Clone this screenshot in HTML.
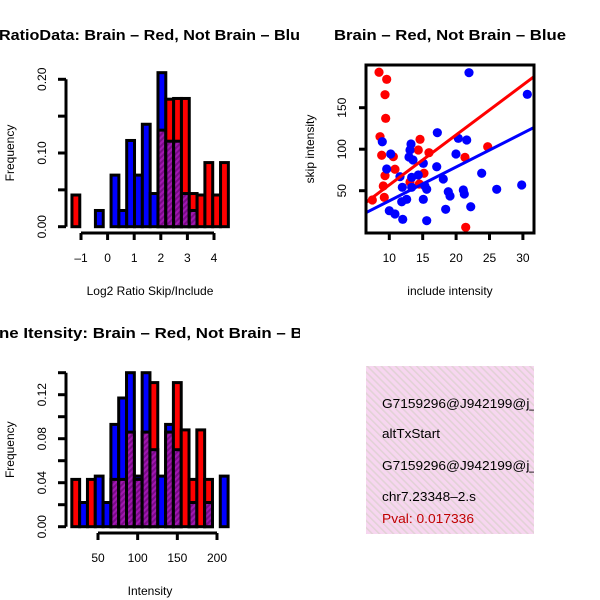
<!DOCTYPE html>
<html><head><meta charset="utf-8"><style>
html,body{margin:0;padding:0;background:#fff;}
svg{display:block;font-family:"Liberation Sans",Arial,sans-serif;}
</style></head><body>
<svg id="c" width="600" height="600" viewBox="0 0 600 600" xmlns="http://www.w3.org/2000/svg">
<defs>
<pattern id="purp" patternUnits="userSpaceOnUse" width="4" height="4" patternTransform="rotate(45)">
<rect width="4" height="4" fill="#a018b0"/><rect width="2" height="4" fill="#7a0a88"/></pattern>
<pattern id="pink" patternUnits="userSpaceOnUse" width="5" height="5" patternTransform="rotate(-45)">
<rect width="5" height="5" fill="#f7d6f0"/><rect width="1.6" height="5" fill="#e2d2d6"/></pattern>
<clipPath id="clipL"><rect x="0" y="0" width="300" height="600"/></clipPath>
<clipPath id="clipBox"><rect x="366" y="366" width="168" height="168"/></clipPath>
<clipPath id="clipSc"><rect x="366" y="65" width="168" height="168"/></clipPath>
</defs>
<g id="p1"></g>
<g id="p2"></g>
<g id="p3"></g>
<g id="p4">
<rect x="366" y="366" width="168" height="168" fill="url(#pink)"/>
<g clip-path="url(#clipBox)" font-size="13">
<text x="382" y="408" textLength="155" lengthAdjust="spacingAndGlyphs">G7159296@J942199@j_</text>
<text x="382" y="438" textLength="58" lengthAdjust="spacingAndGlyphs">altTxStart</text>
<text x="382" y="470" textLength="155" lengthAdjust="spacingAndGlyphs">G7159296@J942199@j_</text>
<text x="382" y="501" textLength="94" lengthAdjust="spacingAndGlyphs">chr7.23348–2.s</text>
<text x="382" y="523" textLength="92" lengthAdjust="spacingAndGlyphs" fill="#c00000">Pval: 0.017336</text>
</g></g>
</svg>
<script>
// ---- Ratio histogram data ----
const ratioBreakStart = -1.34;
const ratioBinWidth = 0.294;
const ratioRed  = [0.043,0,0,0,0,0,0,0,0,0,0,0.131,0.173,0.174,0.174,0.045,0.043,0.087,0.043,0.087];
const ratioBlue = [0,0,0,0.022,0,0.070,0.022,0.117,0.070,0.139,0.045,0.209,0.116,0.116,0.045,0.022,0,0,0,0];
const ratioXTicks = [-1,0,1,2,3,4];
const ratioYTicks = [0,0.05,0.10,0.15,0.20];
const ratioYLabels = ["0.00","","0.10","","0.20"];
// ---- Intensity histogram data ----
const intBreakStart = 17;
const intBinWidth = 9.85;
const intRed  = [0.043,0,0.043,0,0,0.043,0.043,0.086,0.043,0.086,0.131,0,0.086,0.131,0.088,0.043,0.088,0.043,0,0];
const intBlue = [0,0.022,0,0.046,0.022,0.093,0.117,0.140,0.046,0.140,0.070,0.046,0.093,0.070,0,0.022,0,0.022,0,0.046];
const intXTicks = [50,100,150,200];
const intYTicks = [0,0.02,0.04,0.06,0.08,0.10,0.12,0.14];
const intYLabels = ["0.00","","0.04","","0.08","","0.12",""];
// ---- Scatter data ----
const redX = [8.46,9.61,9.36,9.46,8.61,8.86,10.60,14.60,14.34,15.94,9.36,10.85,9.10,9.25,7.46,15.19,14.49,13.1,21.33,24.73,21.44];
const redY = [192.7,184.2,165.7,137.2,115.1,92.7,91.0,111.9,99.0,95.8,68.1,75.8,55.7,42.0,38.8,71.0,58.1,60.5,90.2,103.0,5.9];
const blueX = [21.93,30.66,17.19,8.95,13.25,13.10,12.95,13.55,20.33,21.59,10.21,19.98,15.09,9.61,17.10,23.83,18.08,14.34,13.35,11.95,13.35,15.34,15.60,18.83,19.09,21.08,21.23,26.08,29.82,10.00,10.85,12.01,12.60,11.86,15.09,18.44,22.19,15.60,11.6];
const blueY = [192.2,166.1,119.9,109.0,106.3,99.0,90.6,87.0,113.1,111.1,94.2,94.2,83.0,76.1,78.9,71.0,64.1,68.9,66.1,54.1,54.1,55.7,51.7,48.8,43.6,50.8,46.0,51.7,56.9,25.9,21.9,15.5,39.6,36.7,39.6,27.6,30.7,13.9,66.9];
const fitIntercept = [-3.2,-3.0];  // red, blue
const fitSlope = [6.02,4.08];
const scXTicks = [10,15,20,25,30];
const scYTicks = [50,100,150];

const NS="http://www.w3.org/2000/svg";
function mk(parent,tag,attrs,text){const e=document.createElementNS(NS,tag);for(const k in attrs)e.setAttribute(k,attrs[k]);if(text!==undefined)e.textContent=text;parent.appendChild(e);return e;}

function drawHist(g,xs,ys,start,w,red,blue,xTicks,yTicks,yLabels,axY,title,titleLen,xlab,titleBase){
  const tg=mk(g,'g',{'clip-path':'url(#clipL)'});
  const t=mk(tg,'text',{x:-1,y:titleBase,'font-size':15,'font-weight':'bold',textLength:titleLen,lengthAdjust:'spacingAndGlyphs'},title);
  
  
  for(let i=0;i<red.length;i++){
    const r=red[i],b=blue[i],x0=xs(start+i*w),x1=xs(start+(i+1)*w);
    const mx=Math.max(r,b),mn=Math.min(r,b);
    if(mx>0){
      const rc=mk(g,'rect',{x:x0,y:ys(mx),width:x1-x0,height:ys(0)-ys(mx),fill:r>b?'#ff0000':'#0000ff',stroke:'#000','stroke-width':3});
      
      
    }
    if(mn>0){
      const pc=mk(g,'rect',{x:x0,y:ys(mn),width:x1-x0,height:ys(0)-ys(mn),fill:'url(#purp)',stroke:'#000','stroke-width':3});
      
      
    }
  }
  const ya=mk(g,'line',{x1:66,x2:66,y1:ys(yTicks[0]),y2:ys(yTicks[yTicks.length-1]),stroke:'#000','stroke-width':3});
  
  
  yTicks.forEach((v,i)=>{
    mk(g,'line',{x1:58,x2:66,y1:ys(v),y2:ys(v),stroke:'#000','stroke-width':3});
    if(yLabels[i]){
      const l=mk(g,'text',{x:0,y:0,'font-size':12,'text-anchor':'middle',transform:`translate(46,${ys(v)}) rotate(-90)`},yLabels[i]);
      
      
    }
  });
  const yt=mk(g,'text',{x:0,y:0,'font-size':12,'text-anchor':'middle',transform:`translate(14,${(ys(yTicks[0])+ys(yTicks[yTicks.length-1]))/2}) rotate(-90)`},'Frequency');
  
  
  const xa=mk(g,'line',{x1:xs(xTicks[0]),x2:xs(xTicks[xTicks.length-1]),y1:axY,y2:axY,stroke:'#000','stroke-width':3});
  
  
  xTicks.forEach(v=>{
    mk(g,'line',{x1:xs(v),x2:xs(v),y1:axY,y2:axY+7,stroke:'#000','stroke-width':3});
    const l=mk(g,'text',{x:xs(v),y:axY+29,'font-size':12,'text-anchor':'middle'},v<0?'–'+(-v):String(v));
    
    
  });
  const xt=mk(g,'text',{x:150,y:axY+62,'font-size':12,'text-anchor':'middle'},xlab);
  
  
}

drawHist(document.getElementById('p1'),v=>81+(v+1)*26.6,v=>226.7-v*737,ratioBreakStart,ratioBinWidth,ratioRed,ratioBlue,ratioXTicks,ratioYTicks,ratioYLabels,233,'RatioData: Brain – Red, Not Brain – Blue',310,'Log2 Ratio Skip/Include',40);
drawHist(document.getElementById('p3'),v=>98+(v-50)*0.7933,v=>526.7-v*1100,intBreakStart,intBinWidth,intRed,intBlue,intXTicks,intYTicks,intYLabels,533,'ne Itensity: Brain – Red, Not Brain – Blue',328,'Intensity',338);

(function(){
  const g=document.getElementById('p2');
  const xs=v=>389.3+(v-10)*6.68, ys=v=>190.7-(v-50)*0.83;
  const t=mk(g,'text',{x:334,y:40,'font-size':15,'font-weight':'bold',textLength:232,lengthAdjust:'spacingAndGlyphs'},'Brain – Red, Not Brain – Blue');
  
  
  const pg=mk(g,'g',{'clip-path':'url(#clipSc)'});
  redX.forEach((x,i)=>{const c=mk(pg,'circle',{cx:xs(x),cy:ys(redY[i]),r:4.6,fill:'#ff0000'});
    
    });
  blueX.forEach((x,i)=>{const c=mk(pg,'circle',{cx:xs(x),cy:ys(blueY[i]),r:4.6,fill:'#0000ff'});
    
    });
  const cols=['#ff0000','#0000ff'];
  [0,1].forEach(k=>{const xa=6.5,xb=31.7;
    const l=mk(pg,'line',{x1:xs(xa),y1:ys(fitIntercept[k]+fitSlope[k]*xa),x2:xs(xb),y2:ys(fitIntercept[k]+fitSlope[k]*xb),stroke:cols[k],'stroke-width':3});
    
    });
  const b=mk(g,'rect',{x:366,y:65,width:168,height:168,fill:'none',stroke:'#000','stroke-width':3});
  
  
  scXTicks.forEach(v=>{mk(g,'line',{x1:xs(v),x2:xs(v),y1:233,y2:240,stroke:'#000','stroke-width':3});
    const l=mk(g,'text',{x:xs(v),y:262,'font-size':12,'text-anchor':'middle'},String(v));
    
    });
  scYTicks.forEach(v=>{mk(g,'line',{x1:359,x2:366,y1:ys(v),y2:ys(v),stroke:'#000','stroke-width':3});
    const l=mk(g,'text',{x:0,y:0,'font-size':12,'text-anchor':'middle',transform:`translate(346,${ys(v)}) rotate(-90)`},String(v));
    
    });
  const xt=mk(g,'text',{x:450,y:295,'font-size':12,'text-anchor':'middle'},'include intensity');
  
  
  const yt=mk(g,'text',{x:0,y:0,'font-size':12,'text-anchor':'middle',transform:'translate(314,149) rotate(-90)'},'skip intensity');
  
  
})();
</script>
</body></html>
